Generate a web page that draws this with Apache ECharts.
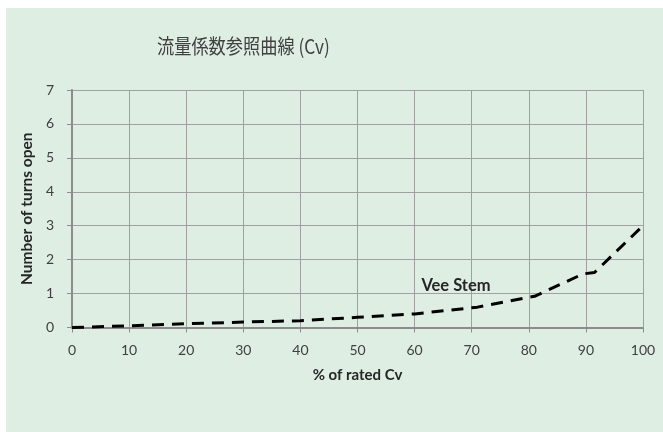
<!DOCTYPE html>
<html>
<head>
<meta charset="utf-8">
<script src="https://cdn.jsdelivr.net/npm/echarts@6/dist/echarts.min.js"></script>
<style>
  html, body { margin: 0; padding: 0; background: #ffffff; }
  #chart { width: 663px; height: 432px; }
</style>
</head>
<body>
<div id="chart"></div>
<script>
// Valve flow curve: percent of rated Cv against handle turns
const titleText = '流量係数参照曲線 (Cv)';
const xAxisTitle = '% of rated Cv';
const yAxisTitle = 'Number of turns open';
const seriesName = 'Vee Stem';

const ratedCvPct = [0, 10, 20, 30, 40, 50, 60, 71, 81, 89.5, 91.5, 100];
const turnsOpen  = [0, 0.05, 0.11, 0.16, 0.2, 0.3, 0.4, 0.6, 0.92, 1.58, 1.62, 3.0];

// where the series name sits on the plot (data coordinates)
const labelPos = [61.1, 1.22];

const fontLatin = 'Lato, "Noto Sans CJK JP", sans-serif';

const chart = echarts.init(document.getElementById('chart'), null, { renderer: 'canvas' });

chart.setOption({
  backgroundColor: '#ffffff',
  animation: false,
  graphic: [{
    type: 'rect',
    z: -10,
    shape: { x: 6, y: 8, width: 657, height: 424 },
    style: { fill: '#DFEEE2' }
  }, {
    type: 'text',
    left: 157,
    top: 36,
    scaleX: 0.86,
    style: {
      text: titleText,
      fontFamily: '"Noto Sans CJK JP", Lato, sans-serif',
      fontSize: 20,
      fill: '#404040'
    }
  }],
  grid: { left: 72, right: 20, top: 90, bottom: 104.5, containLabel: false },
  xAxis: {
    type: 'value',
    min: 0, max: 100, interval: 10,
    name: xAxisTitle,
    nameLocation: 'middle',
    nameGap: 40,
    nameTextStyle: { fontFamily: fontLatin, fontSize: 15, fontWeight: 'bold', color: '#262626' },
    axisLine: { show: true, lineStyle: { color: '#8C8C8C', width: 2 } },
    axisTick: { show: true, length: 5, lineStyle: { color: '#8C8C8C', width: 1 } },
    axisLabel: { margin: 16, fontFamily: fontLatin, fontSize: 14, color: '#404040' },
    splitLine: { show: true, lineStyle: { color: '#A0A0A0', width: 1 } }
  },
  yAxis: {
    type: 'value',
    min: 0, max: 7, interval: 1,
    name: yAxisTitle,
    nameLocation: 'middle',
    nameGap: 32,
    nameTextStyle: { fontFamily: fontLatin, fontSize: 15.5, fontWeight: 'bold', color: '#262626' },
    axisLine: { show: true, lineStyle: { color: '#8C8C8C', width: 2 } },
    axisTick: { show: true, length: 5, lineStyle: { color: '#8C8C8C', width: 1 } },
    axisLabel: { margin: 18, fontFamily: fontLatin, fontSize: 14, color: '#404040' },
    splitLine: { show: true, lineStyle: { color: '#A0A0A0', width: 1 } }
  },
  series: [{
    name: seriesName,
    type: 'line',
    data: ratedCvPct.map((x, i) => [x, turnsOpen[i]]),
    showSymbol: false,
    symbol: 'none',
    lineStyle: { color: '#000000', width: 3, type: [12, 8], cap: 'butt' },
    markPoint: {
      symbol: 'circle',
      symbolSize: 1,
      itemStyle: { color: 'rgba(0,0,0,0)' },
      data: [{
        coord: labelPos,
        label: {
          show: true,
          formatter: seriesName,
          position: 'right',
          distance: 0,
          fontFamily: fontLatin,
          fontSize: 16.5,
          fontWeight: 'bold',
          color: '#262626'
        }
      }]
    }
  }]
});
</script>
</body>
</html>
